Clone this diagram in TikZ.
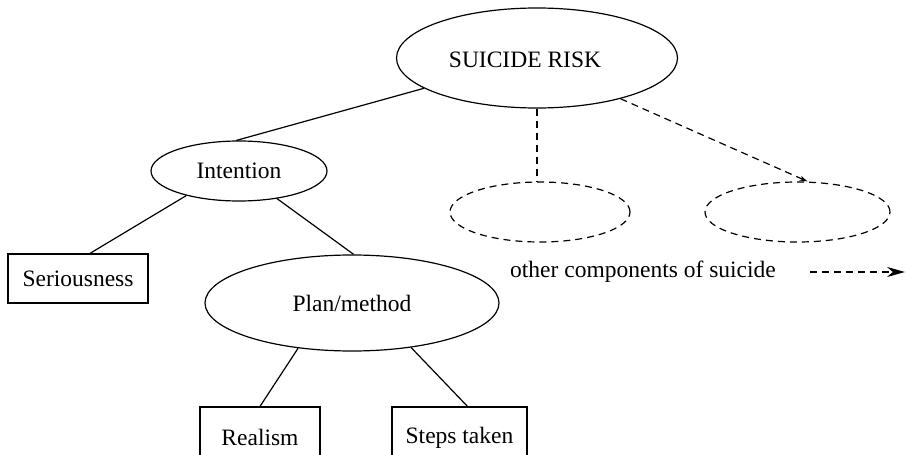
\documentclass[tikz,border=0pt]{standalone}
\usepackage{fontspec}
\setmainfont{Liberation Serif}
\usetikzlibrary{shapes.geometric,arrows.meta,calc}
\begin{document}
\begin{tikzpicture}[x=1pt,y=-1pt,
  every node/.style={font=\fontsize{23.5}{28}\selectfont},
  line/.style={line width=1.2pt},
  dline/.style={line width=1.2pt, dash pattern=on 7pt off 5pt},
  ell/.style={ellipse, draw, line width=1.2pt, inner sep=0pt},
  dell/.style={ellipse, draw, line width=1.2pt, dash pattern=on 7pt off 5pt, inner sep=0pt},
  box/.style={rectangle, draw, line width=1.2pt, inner sep=0pt},
]
\useasboundingbox (0,0) rectangle (906,455);
\fill[white] (0,0) rectangle (906,455);
\clip (0,0) rectangle (906,455);
% nodes
\node[ell, minimum width=281pt, minimum height=100pt] (risk) at (537,58) {};
\node (risktxt) at (525,60) {SUICIDE RISK};
\node[ell, minimum width=176pt, minimum height=60pt] (int) at (239,171) {Intention};
\node[box, minimum width=140pt, minimum height=49pt] (ser) at (78,278.5) {Seriousness};
\node[ell, minimum width=294pt, minimum height=96pt] (plan) at (352,303) {Plan/method};
\node[box, minimum width=120pt, minimum height=61pt] (real) at (260,437.5) {Realism};
\node[box, minimum width=135pt, minimum height=61pt] (steps) at (459.5,437.5) {Steps taken};
\node[dell, minimum width=180pt, minimum height=60pt] (e1) at (540,212) {};
\node[dell, minimum width=185pt, minimum height=60pt] (e2) at (797.5,212) {};
\node (other) at (643,272) {other components of suicide};
\coordinate (arrs) at (810,272);
\coordinate (arre) at (905,272);
% connectors
\draw[line] (risk.195) -- (int.95);
\draw[line] (int.205) -- ($(ser.north)+(12,0)$);
\draw[line] (int.-36) -- (plan.88);
\draw[line] (plan.220) -- (real.north);
\draw[line] (plan.-37) -- ($(steps.north)+(8,0)$);
\draw[dline] (risk.south) -- (risk.south |- e1.north);
\draw[dline, -{Stealth[length=8pt,width=5pt]}] (risk.-26) -- ($(e2.north)+(10,0)$);
\draw[dline, -{Stealth[length=18pt,width=10pt]}] (arrs) -- (arre);
\end{tikzpicture}
\end{document}
